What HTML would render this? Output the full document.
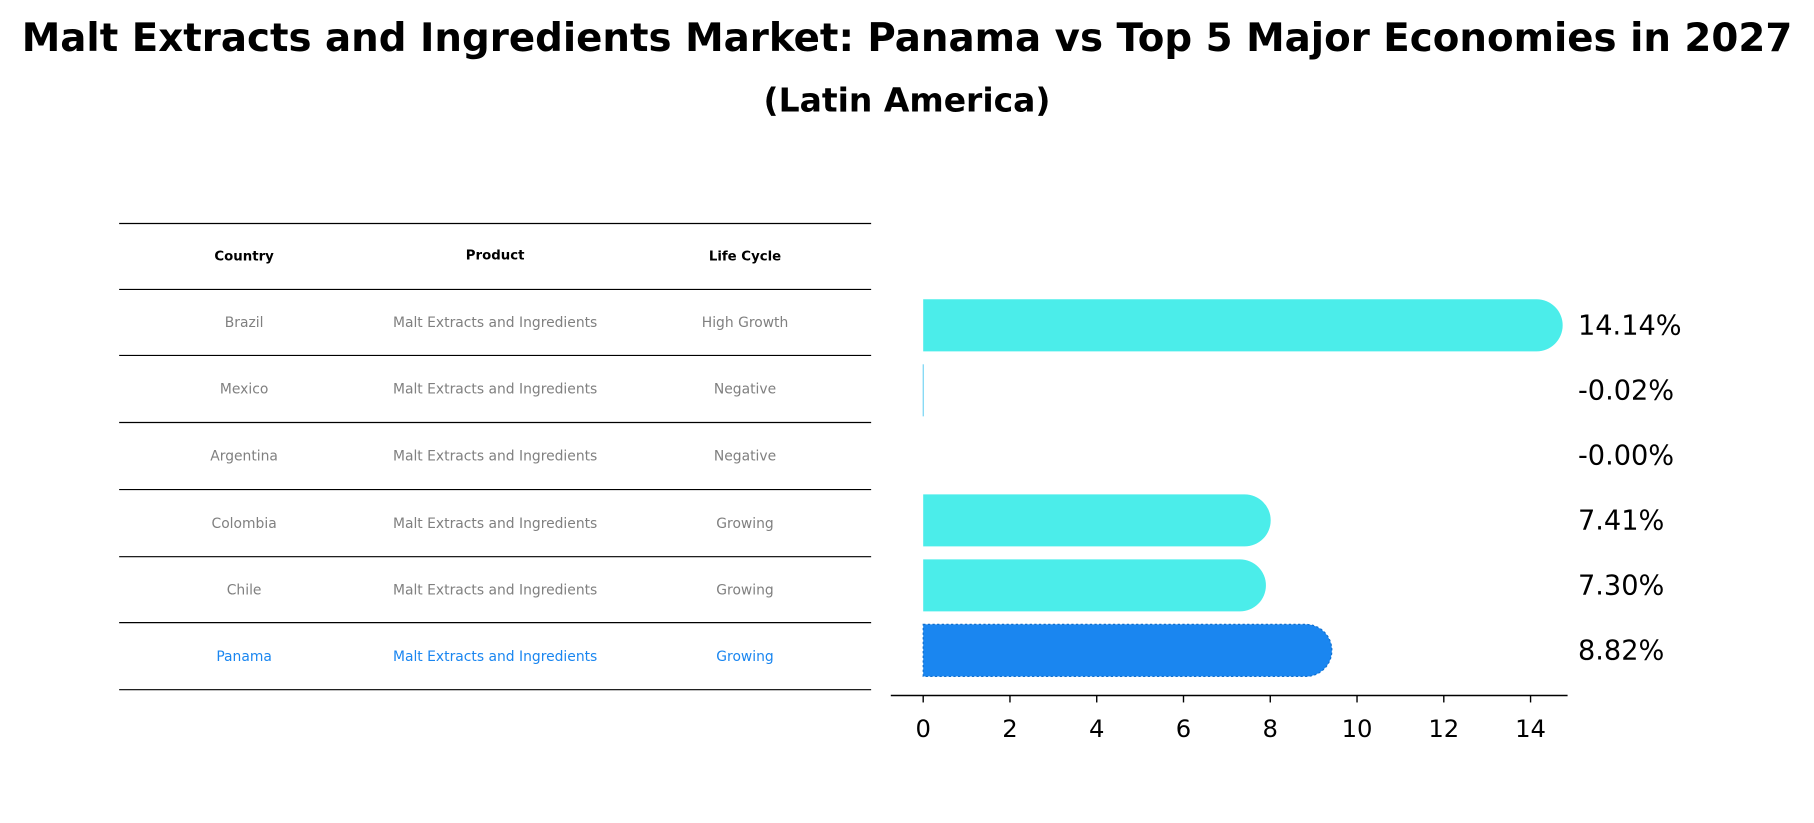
<!DOCTYPE html>
<html><head><meta charset="utf-8"><style>
html,body{margin:0;padding:0;background:#fff}
svg{display:block;font-family:"DejaVu Sans","Liberation Sans",sans-serif}
</style></head><body>
<svg id="chart" width="1814" height="823" viewBox="0 0 1568 711" xmlns="http://www.w3.org/2000/svg">
<text x="784" y="44" text-anchor="middle" font-size="33.5" font-weight="bold">Malt Extracts and Ingredients Market: Panama vs Top 5 Major Economies in 2027</text>
<text x="784" y="96" text-anchor="middle" font-size="28.5" font-weight="bold">(Latin America)</text>
<g id="table"></g>
<g id="bars"></g>
</svg>
<script>
const countries = ["Brazil","Mexico","Argentina","Colombia","Chile","Panama"];
const products = ["Malt Extracts and Ingredients","Malt Extracts and Ingredients","Malt Extracts and Ingredients","Malt Extracts and Ingredients","Malt Extracts and Ingredients","Malt Extracts and Ingredients"];
const lifeCycles = ["High Growth","Negative","Negative","Growing","Growing","Growing"];
const values = [14.14,-0.02,-0.001,7.41,7.30,8.82];
const valueLabels = ["14.14%","-0.02%","-0.00%","7.41%","7.30%","8.82%"];
const ticks = [0,2,4,6,8,10,12,14];

const NS="http://www.w3.org/2000/svg";
function mk(tag,attrs,parent,txt){const e=document.createElementNS(NS,tag);for(const k in attrs)e.setAttribute(k,attrs[k]);if(txt!==undefined)e.textContent=txt;parent.appendChild(e);return e;}
const tbl=document.getElementById('table');
const lineYs=[193,250,307,365,423,481,538,596];
const colX=[211,428,644];
lineYs.forEach((y,i)=>{const l=mk('line',{x1:103,x2:753,y1:y,y2:y,stroke:'#000','stroke-width':1},tbl);

});
["Country","Product","Life Cycle"].forEach((h,i)=>{const t=mk('text',{x:colX[i],y:i==1?224:225,'text-anchor':'middle','font-size':11.5,'font-weight':'bold'},tbl,h);

});
countries.forEach((c,i)=>{const y=(lineYs[i+1]+lineYs[i+2])/2+4;const col=c==="Panama"?"#1a86f0":"#808080";
[c,products[i],lifeCycles[i]].forEach((v,j)=>{const t=mk('text',{x:colX[j],y:y,'text-anchor':'middle','font-size':12,fill:col},tbl,v);

});});

const g=document.getElementById('bars');
const x0=798, unit=(1323-798)/14;
const xs=v=>x0+v*unit;
const yc=i=>281+i*56.2;
const h=45,r=22.5;
values.forEach((v,i)=>{const y=yc(i);const xe=xs(v);const isP=countries[i]==="Panama";
const fill=isP?"#1a86f0":"#4bedea";
let p;
if(Math.abs(v)<0.05){
  if(Math.abs(v)>=0.01){p=mk('line',{x1:x0,x2:x0,y1:y-h/2,y2:y+h/2,stroke:'#4bc6f0','stroke-width':0.8},g);}
  else {p=mk('line',{x1:x0,x2:x0,y1:y-h/2,y2:y+h/2,stroke:'#fff','stroke-width':0},g);}
} else {
  const d=`M${x0} ${y-h/2}H${xe}A${r} ${r} 0 0 1 ${xe} ${y+h/2}H${x0}Z`;
  p=mk('path',{d:d,fill:fill},g);
  if(isP){p.setAttribute('stroke','#1070d0');p.setAttribute('stroke-dasharray','2 2');p.setAttribute('stroke-width','1');}
}


const t=mk('text',{x:1364,y:y+8,'font-size':23.5},g,valueLabels[i]);

});
const ax=mk('line',{x1:770,x2:1355,y1:601,y2:601,stroke:'#000','stroke-width':1.3},g);


ticks.forEach(tv=>{const x=xs(tv);const tl=mk('line',{x1:x,x2:x,y1:601,y2:607,stroke:'#000','stroke-width':1.2},g);


const t=mk('text',{x:x,y:637,'text-anchor':'middle','font-size':21},g,String(tv));

});
</script>
</body></html>
